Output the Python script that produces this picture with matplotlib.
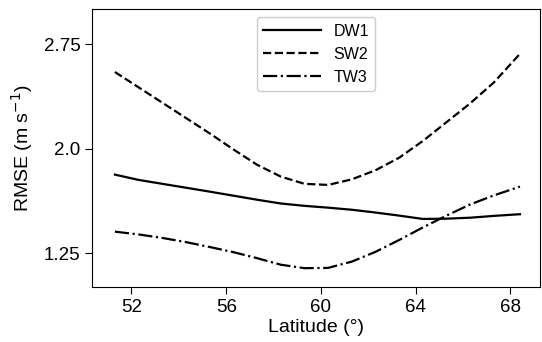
import matplotlib
matplotlib.use("Agg")
import matplotlib.pyplot as plt

plt.rcParams['font.family'] = ['Liberation Sans', 'DejaVu Sans']

lat = [51.3, 52.3, 53.3, 54.3, 55.3, 56.3, 57.3, 58.3, 59.3, 60.3,
       61.3, 62.3, 63.3, 64.3, 65.3, 66.3, 67.3, 68.4]
dw1 = [1.814, 1.776, 1.748, 1.72, 1.692, 1.663, 1.634, 1.607, 1.59, 1.577,
       1.562, 1.542, 1.52, 1.496, 1.498, 1.505, 1.518, 1.530]
sw2 = [2.55, 2.44, 2.33, 2.22, 2.11, 1.995, 1.885, 1.80, 1.748, 1.74,
       1.78, 1.845, 1.935, 2.055, 2.19, 2.325, 2.475, 2.68]
tw3 = [1.405, 1.385, 1.36, 1.33, 1.295, 1.258, 1.215, 1.168, 1.143, 1.145,
       1.19, 1.26, 1.345, 1.435, 1.52, 1.60, 1.665, 1.728]

xticks = [52, 56, 60, 64, 68]
yticks = [1.25, 2.0, 2.75]
yticklabels = ['1.25', '2.0', '2.75']

fig = plt.figure(figsize=(5.42, 3.42), dpi=100)
ax = fig.add_axes([0.170, 0.160, 0.826, 0.813])

ax.plot(lat, dw1, color='black', linestyle='-', linewidth=1.6, label='DW1')
ax.plot(lat, sw2, color='black', linestyle='--', linewidth=1.6, label='SW2')
ax.plot(lat, tw3, color='black', linestyle='-.', linewidth=1.6, label='TW3')

ax.set_xlim(50.34, 69.24)
ax.set_ylim(1.006, 3.0)
ax.set_xticks(xticks)
ax.set_yticks(yticks)
ax.set_yticklabels(yticklabels)
ax.tick_params(direction='out', length=5, labelsize=13.5)
ax.set_xlabel('Latitude (°)', fontsize=14, labelpad=2)
ax.set_ylabel('RMSE (m s$^{-1}$)', fontsize=14, labelpad=6)

leg = ax.legend(loc='upper center', fontsize=11.5, handlelength=3.6, frameon=True,
                fancybox=True, framealpha=1)
leg.get_frame().set_edgecolor('#cccccc')

fig.savefig('out.png', dpi=100)
